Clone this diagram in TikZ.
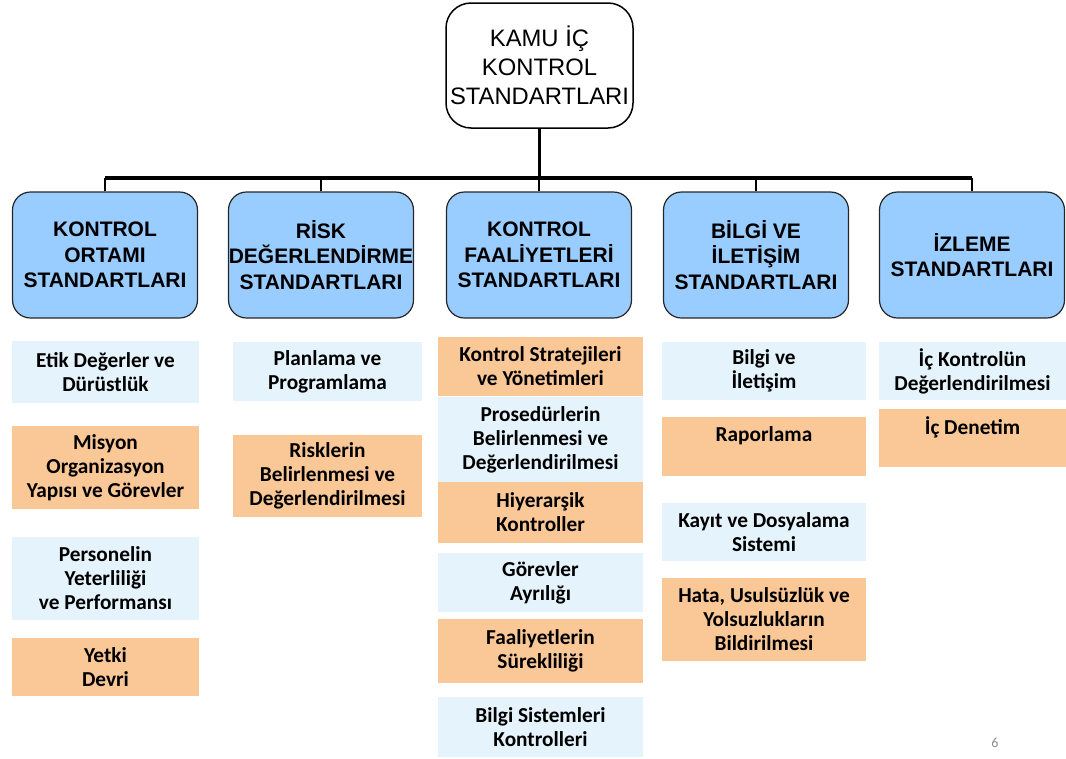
\documentclass[tikz,border=0pt]{standalone}
\usepackage{fontspec}
\setmainfont{Carlito}
\newfontfamily\arialf{Liberation Sans}
\usetikzlibrary{positioning}
\definecolor{hdblue}{RGB}{153,204,255}
\definecolor{ltblue}{RGB}{229,243,252}
\definecolor{peach}{RGB}{250,199,150}
\begin{document}
\begin{tikzpicture}[x=1pt,y=-1pt,
  hd/.style={draw=black!85,line width=1.2pt,fill=hdblue,rounded corners=18pt,
    minimum width=185pt,minimum height=126pt,align=center,inner sep=0pt,
    font=\arialf\bfseries\fontsize{21}{25.5}\selectfont},
  lb/.style={fill=ltblue,align=center,inner sep=0pt,
    font=\bfseries\fontsize{21.3}{24}\selectfont},
  ob/.style={lb,fill=peach},
  c1/.style={minimum width=187pt},c2/.style={minimum width=189pt},
  c3/.style={minimum width=205pt},c4/.style={minimum width=204pt},
  c5/.style={minimum width=187pt},
  conn/.style={line width=2.5pt}]
\useasboundingbox (0,0) rectangle (1066,758);
% top
\node[draw=black,line width=1.5pt,fill=white,rounded corners=25pt,minimum width=187pt,
  minimum height=125pt,align=center,inner sep=0pt,font=\arialf\fontsize{23.8}{29}\selectfont]
  (kamu) at (539.5,65.5) {KAMU İÇ\\KONTROL\\STANDARTLARI};
% headers
\node[hd] (h1) at (105,255) {KONTROL\\ORTAMI\\STANDARTLARI};
\node[hd] (h2) at (321,255) {RİSK\\DEĞERLENDİRME\\STANDARTLARI};
\node[hd] (h3) at (539,255) {KONTROL\\FAALİYETLERİ\\STANDARTLARI};
\node[hd] (h4) at (756,255) {BİLGİ VE\\İLETİŞİM\\STANDARTLARI};
\node[hd] (h5) at (972,255) {İZLEME\\STANDARTLARI};
\coordinate (bar) at (539,178);
\draw[line width=3.5pt] (h1.north |- bar) -- (h5.north |- bar);
\draw[conn] (kamu.south) -- (kamu.south |- bar);
\foreach \i in {1,...,5} \draw[conn] (h\i.north) -- (h\i.north |- bar);
% column 1
\node[lb,c1,minimum height=62pt] (eti) at (105.5,372) {Etik Değerler ve\\Dürüstlük};
\node[ob,c1,minimum height=83pt] (mis) at (105.5,467.5) {Misyon\\Organizasyon\\Yapısı ve Görevler};
\node[lb,c1,minimum height=83pt] (per) at (105.5,578.5) {Personelin\\Yeterliliği\\ve Performansı};
\node[ob,c1,minimum height=58pt] (yet) at (105.5,667) {Yetki\\Devri};
% column 2
\node[lb,c2,minimum height=59pt] (pla) at (327.5,371.5) {Planlama ve\\Programlama};
\node[ob,c2,minimum height=82pt] (ris) at (327.5,476) {Risklerin\\Belirlenmesi ve\\Değerlendirilmesi};
% column 3
\node[ob,c3,minimum height=59pt] (kst) at (540.5,366.5) {Kontrol Stratejileri\\ve Yönetimleri};
\node[lb,c3,minimum height=85pt] (pro) at (540.5,439.5) {Prosedürlerin\\Belirlenmesi ve\\Değerlendirilmesi};
\node[ob,c3,minimum height=61pt] (hiy) at (540.5,512.5) {Hiyerarşik\\Kontroller};
\node[lb,c3,minimum height=59pt] (gor) at (540.5,582.5) {Görevler\\Ayrılığı};
\node[ob,c3,minimum height=64pt] (fsu) at (540.5,651) {Faaliyetlerin\\Sürekliliği};
\node[lb,c3,minimum height=60pt] (bsk) at (540.5,727) {Bilgi Sistemleri\\Kontrolleri};
% column 4
\node[lb,c4,minimum height=58pt] (bil) at (764,371) {Bilgi ve\\İletişim};
\node[ob,c4,minimum height=59pt] (rap) at (764,446.5) {Raporlama\\\mbox{}};
\node[lb,c4,minimum height=58pt] (kay) at (764,532) {Kayıt ve Dosyalama\\Sistemi};
\node[ob,c4,minimum height=83pt] (hat) at (764,619.5) {Hata, Usulsüzlük ve\\Yolsuzlukların\\Bildirilmesi};
% column 5
\node[lb,c5,minimum height=58pt] (ick) at (972.5,371) {İç Kontrolün\\Değerlendirilmesi};
\node[ob,c5,minimum height=58pt] (icd) at (972.5,438) {İç Denetim\\\mbox{}};
\node[text=black!45,inner sep=0pt,font=\fontsize{14}{16}\selectfont] (pg) at (995,743) {6};
\end{tikzpicture}
\end{document}
